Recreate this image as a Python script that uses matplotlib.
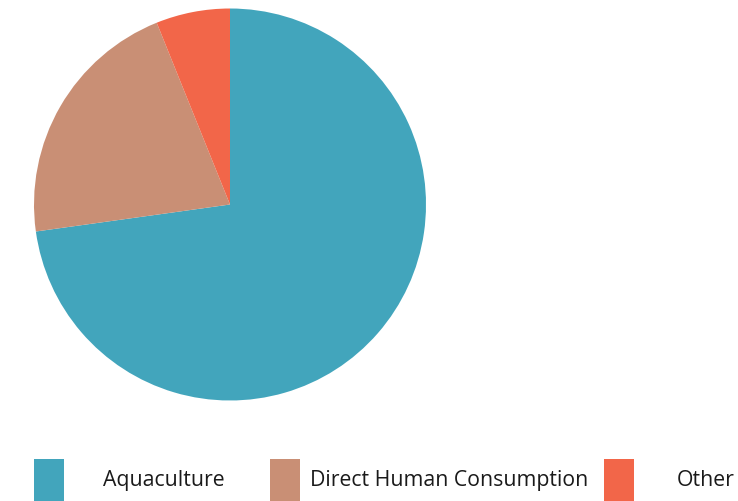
import matplotlib.pyplot as plt
from matplotlib.patches import Rectangle

labels = ['Aquaculture', 'Direct Human Consumption', 'Other']
values = [72.8, 21.1, 6.1]
colors = ['#42A5BC', '#C98F75', '#F26649']

W, H = 738, 502
fig = plt.figure(figsize=(W / 100, H / 100), dpi=100)

# pie: centre (230, 205) px from top, radius 196 px
cx, cy, r = 230, 205.5, 196
ax = fig.add_axes([(cx - r) / W, (H - cy - r) / H, 2 * r / W, 2 * r / H])
ax.pie(values, colors=colors, startangle=90, counterclock=False,
       radius=1, wedgeprops={'linewidth': 0})
ax.set_xlim(-1, 1)
ax.set_ylim(-1, 1)
ax.set_aspect('equal')
ax.axis('off')

# legend drawn by hand along the bottom edge
swatch_x = [34, 270, 604]
text_x = [103, 310, 677]
for lab, col, sx, tx in zip(labels, colors, swatch_x, text_x):
    fig.patches.append(Rectangle((sx / W, 0), 30 / W, 42 / H, facecolor=col,
                                 edgecolor='none', transform=fig.transFigure))
    fig.text(tx / W, (H - 481) / H, lab, fontsize=15.3, family='Open Sans',
             color='#1a1a1a', va='center', ha='left')

fig.savefig('out.png', dpi=100)
